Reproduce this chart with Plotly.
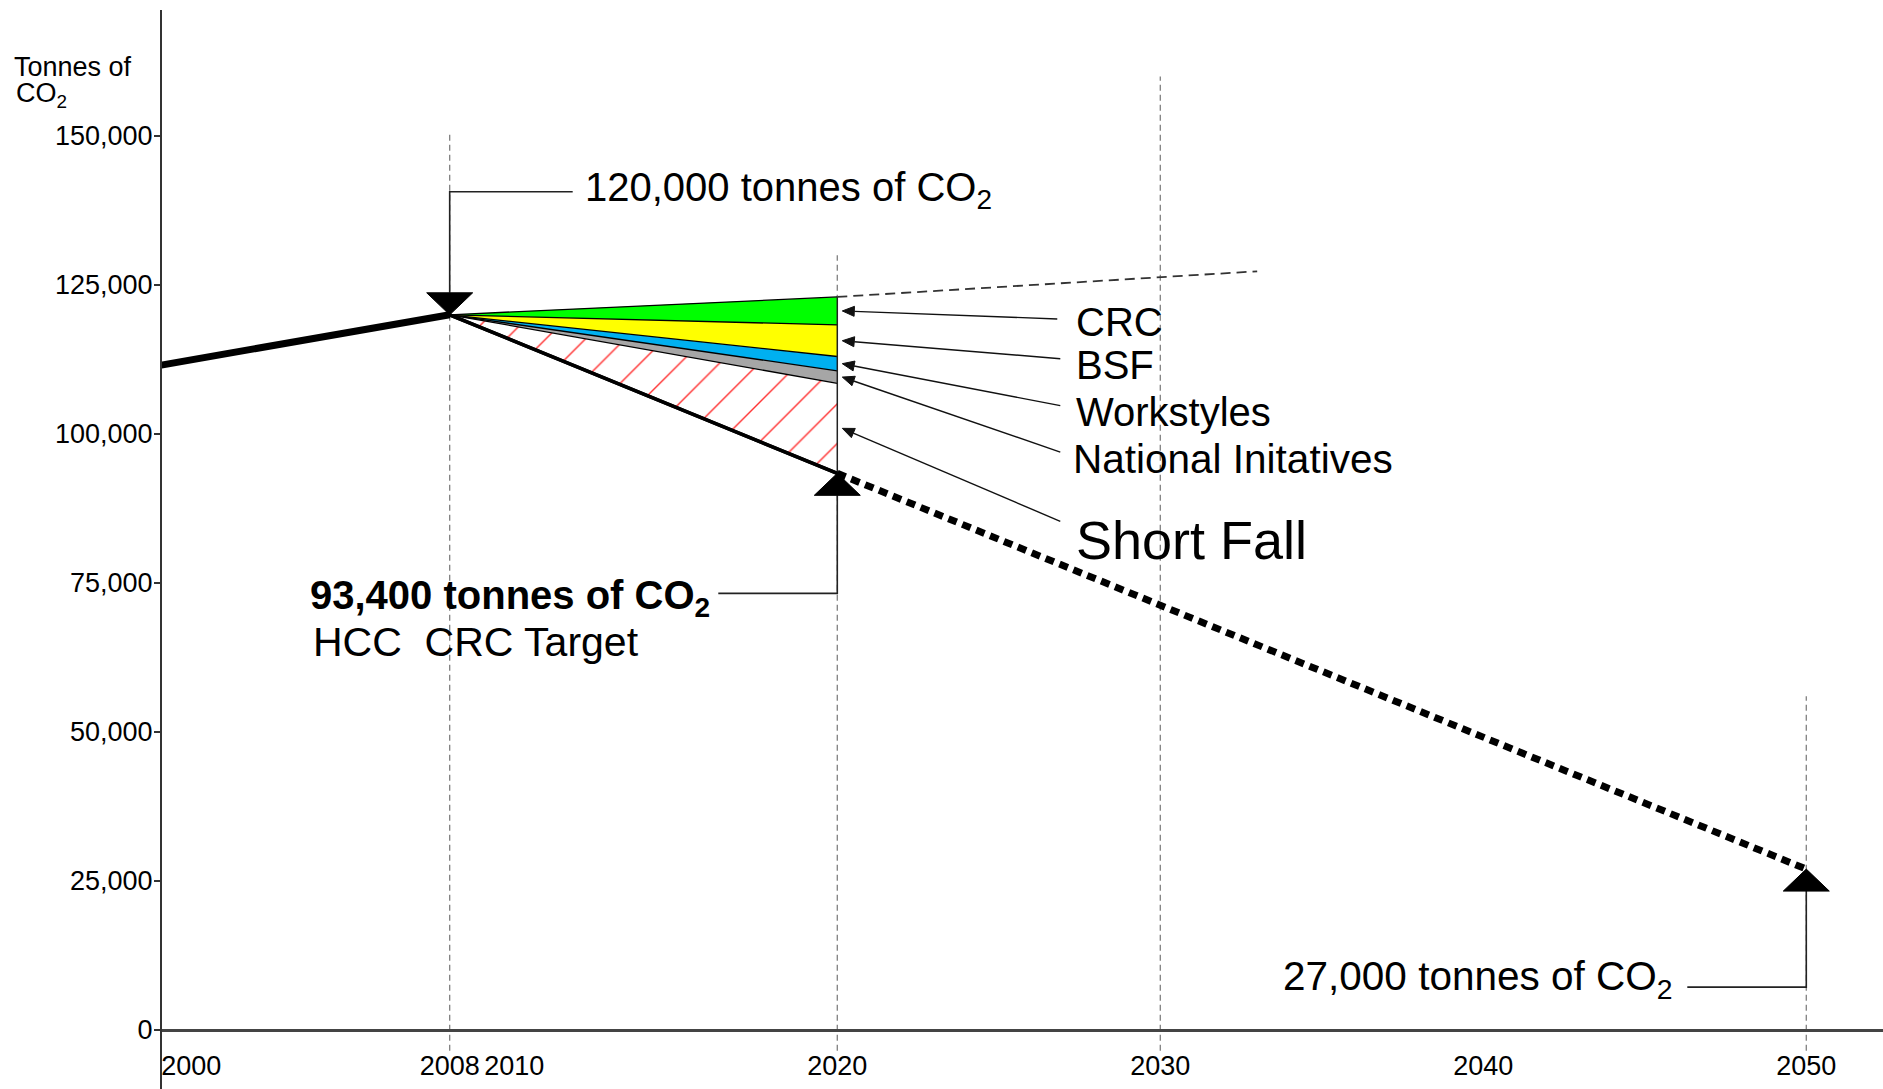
import math
import plotly.graph_objects as go

# ---------------- data ----------------
hist_years = [1999, 2008]
hist_values = [111500, 120000]

base_year = 2008
base_value = 120000
target_year = 2020
target_value = 93400
goal_year = 2050
goal_value = 27000

bau_ext_years = [2020, 2033]
bau_ext_values = [123000, 127300]

initiatives = ["CRC", "BSF", "Workstyles", "National Initatives"]
savings_2020 = [4700, 5300, 2400, 2100]
band_colors = ["#00ff00", "#ffff00", "#00b0f0", "#a6a6a6"]

x_ticks = [2000, 2008, 2010, 2020, 2030, 2040, 2050]
y_ticks = [0, 25000, 50000, 75000, 100000, 125000, 150000]
guide_years = [2008, 2020, 2030, 2050]
guide_tops = [150500, 130000, 160000, 56000]

# ---------------- derived levels ----------------
bau_2020 = bau_ext_values[0]
levels = [bau_2020]
for s in savings_2020:
    levels.append(levels[-1] - s)

FONT = "Liberation Sans, Arial, sans-serif"
fig = go.Figure()

wedge_x = [base_year, target_year]

# target (solid) line
fig.add_trace(go.Scatter(x=wedge_x, y=[base_value, target_value], mode="lines",
                         line=dict(color="black", width=3.5), hoverinfo="skip"))
# shortfall (hatched)
fig.add_trace(go.Scatter(x=wedge_x, y=[base_value, levels[-1]], mode="lines",
                         line=dict(color="black", width=1.3), fill="tonexty",
                         fillcolor="white",
                         fillpattern=dict(shape="/", fgcolor="#ff3030", bgcolor="white",
                                          size=28, solidity=0.05, fillmode="replace"),
                         hoverinfo="skip"))
# stacked initiative bands
for i in range(len(initiatives) - 1, -1, -1):
    fig.add_trace(go.Scatter(x=wedge_x, y=[base_value, levels[i]], mode="lines",
                             line=dict(color="black", width=1.3), fill="tonexty",
                             fillcolor=band_colors[i], hoverinfo="skip"))
# vertical edge at 2020
fig.add_trace(go.Scatter(x=[target_year, target_year], y=[target_value, bau_2020], mode="lines",
                         line=dict(color="#222", width=1.5), hoverinfo="skip"))
# business-as-usual dashed extension
fig.add_trace(go.Scatter(x=bau_ext_years, y=bau_ext_values, mode="lines",
                         line=dict(color="#333", width=1.8, dash="10px,6px"), hoverinfo="skip"))
# projection to 2050 (thick dotted)
fig.add_trace(go.Scatter(x=[target_year, goal_year], y=[target_value, goal_value], mode="lines",
                         line=dict(color="black", width=7, dash="9px,6px"), hoverinfo="skip"))
# historic
fig.add_trace(go.Scatter(x=hist_years, y=hist_values, mode="lines",
                         line=dict(color="black", width=7), hoverinfo="skip"))
# target line on top
fig.add_trace(go.Scatter(x=wedge_x, y=[base_value, target_value], mode="lines",
                         line=dict(color="black", width=3.5), hoverinfo="skip"))

# ---------------- guides ----------------
for yr, top in zip(guide_years, guide_tops):
    fig.add_shape(type="line", xref="x", yref="y", x0=yr, x1=yr, y0=-3500, y1=top,
                  line=dict(color="#808080", width=1.3, dash="6px,4px"), layer="below")

PIX = dict(type="path", xref="x", yref="y", xsizemode="pixel", ysizemode="pixel")

# ---------------- big triangle markers with elbow connectors ----------------
def pointer(x, y, up, dx, dy):
    h, w = 22, 23
    s = -1 if up else 1
    tri = f"M{-w},{s*h} L{w},{s*h} L0,0 Z"
    con = f"M0,{s*h} L0,{dy} L{dx},{dy}"
    fig.add_shape(path=con, line=dict(color="#222", width=1.6), fillcolor="rgba(0,0,0,0)",
                  xanchor=x, yanchor=y, **PIX)
    fig.add_shape(path=tri, line=dict(color="black", width=1), fillcolor="black",
                  xanchor=x, yanchor=y, **PIX)

pointer(base_year, base_value, False, 123, 123)
pointer(target_year, target_value, True, -119, -120)
pointer(goal_year, goal_value, True, -119, -118)

# ---------------- small label arrows ----------------
def label_arrow(x, y, tail_dx, tail_dy, off=5, head_len=12, head_hw=5):
    tx, ty = off, 0.0
    ex, ey = off + tail_dx, -tail_dy
    L = math.hypot(ex - tx, ey - ty)
    ux, uy = (ex - tx) / L, (ey - ty) / L
    nx, ny = -uy, ux
    bx, by = tx + ux * head_len, ty + uy * head_len
    p1 = (bx + nx * head_hw, by + ny * head_hw)
    p2 = (bx - nx * head_hw, by - ny * head_hw)
    line = f"M{bx:.1f},{by:.1f} L{ex:.1f},{ey:.1f}"
    head = f"M{tx:.1f},{ty:.1f} L{p1[0]:.1f},{p1[1]:.1f} L{p2[0]:.1f},{p2[1]:.1f} Z"
    fig.add_shape(path=line, line=dict(color="#111", width=1.4), fillcolor="rgba(0,0,0,0)",
                  xanchor=x, yanchor=y, **PIX)
    fig.add_shape(path=head, line=dict(color="#111", width=1), fillcolor="#111",
                  xanchor=x, yanchor=y, **PIX)

# ---------------- annotations ----------------
def txt(text, x, y, xs, ys, size, xanchor="left", bold=False):
    if bold:
        text = "<b>" + text + "</b>"
    fig.add_annotation(x=x, y=y, xref="x", yref="y", text=text, showarrow=False,
                       xanchor=xanchor, yanchor="middle", xshift=xs, yshift=ys,
                       font=dict(family=FONT, size=size, color="black"))

txt("120,000 tonnes of CO<sub>2</sub>", base_year, base_value, 133, 125, 40)
txt("93,400 tonnes of CO<sub>2</sub>", target_year, target_value, -125, -125, 40, "right", True)
txt("HCC&nbsp;&nbsp;CRC Target", target_year, target_value, -526, -169, 41)
txt("27,000 tonnes of CO<sub>2</sub>", goal_year, goal_value, -131, -110, 40.5, "right")

mids = [(levels[i] + levels[i + 1]) / 2 for i in range(len(initiatives))]
mids.append((levels[-1] + target_value) / 2)
names = initiatives + ["Short Fall"]
text_dy = [-25, -68, -115, -162, -243]
text_dx = [237, 237, 237, 234, 237]
sizes = [40, 40, 40, 40.5, 54]
tail_dx = [215, 218, 218, 218, 218]
tail_dy = [8, 18, 42, 75, 93]
for n, m, tdy, tdx, sz, ax, ay in zip(names, mids, text_dy, text_dx, sizes, tail_dx, tail_dy):
    txt(n, target_year, bau_2020, tdx, tdy, sz)
    label_arrow(target_year, m, ax, ay)

# axis title
fig.add_annotation(xref="paper", yref="paper", x=-0.087, y=0.947, text="Tonnes of",
                   showarrow=False, xanchor="left", yanchor="middle",
                   font=dict(family=FONT, size=27, color="black"))
fig.add_annotation(xref="paper", yref="paper", x=-0.086, y=0.921, text="CO<sub>2</sub>",
                   showarrow=False, xanchor="left", yanchor="middle",
                   font=dict(family=FONT, size=27, color="black"))

# ---------------- layout ----------------
W, H = 1883, 1089
fig.update_layout(width=W, height=H, autosize=False,
                  margin=dict(l=162, r=0, t=10, b=0, pad=0),
                  plot_bgcolor="white", paper_bgcolor="white",
                  showlegend=False, hovermode=False,
                  font=dict(family=FONT, color="black"))
fig.update_xaxes(range=[1999.093, 2052.375], anchor="free", position=59 / 1079,
                 showline=True, linecolor="#444", linewidth=3, showgrid=False, zeroline=False,
                 tickmode="array", tickvals=x_ticks, ticks="", ticklabelstandoff=11,
                 tickfont=dict(family=FONT, size=27, color="black"))
fig.update_yaxes(range=[-9899, 171141], showline=True, linecolor="#333", linewidth=2,
                 showgrid=False, zeroline=False, tickmode="array", tickvals=y_ticks,
                 tickformat=",", ticks="outside", ticklen=6, tickwidth=1.5, tickcolor="#333",
                 ticklabelstandoff=-4,
                 tickfont=dict(family=FONT, size=27, color="black"))

fig.write_html("out.html", config={"displayModeBar": False},
               post_script="document.body.style.margin='0';document.body.style.overflow='hidden';")
